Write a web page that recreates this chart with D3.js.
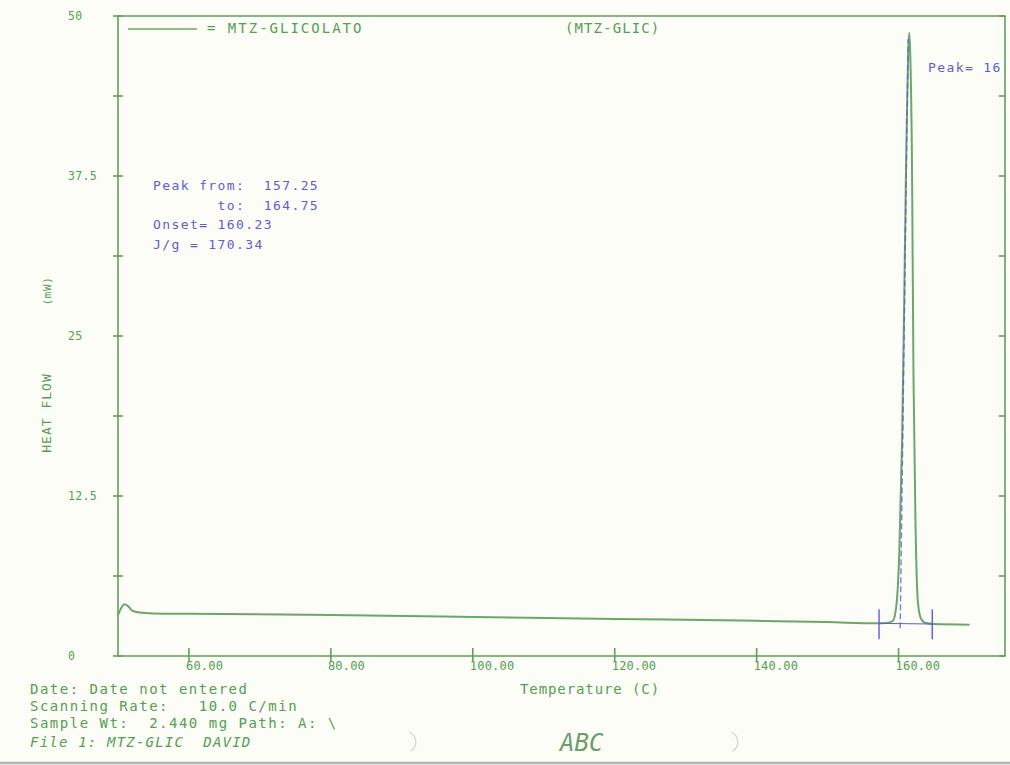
<!DOCTYPE html>
<html>
<head>
<meta charset="utf-8">
<script src="https://cdn.jsdelivr.net/npm/d3@7"></script>
<style>
  html, body { margin: 0; padding: 0; background: #fdfdf7; }
  svg { display: block; }
  text { font-family: "DejaVu Sans Mono", "Liberation Mono", monospace; }
</style>
</head>
<body>
<svg id="chart"></svg>
<script>
// DSC scan, MTZ-GLICOLATO
const temps = [50, 50.4, 50.9, 51.4, 52, 53, 55, 60, 80, 100, 120, 140, 150, 157, 158.5, 159.2,
  159.7, 160.1, 160.5, 160.8, 161.1, 161.35, 161.5, 161.65, 161.9, 162.1, 162.4, 162.7, 163.1,
  163.7, 165, 170];
const heatFlow = [3.2, 3.7, 4.05, 3.9, 3.55, 3.4, 3.33, 3.3, 3.2, 3.05, 2.9, 2.75, 2.65, 2.55, 2.6, 2.75,
  4.0, 8, 17, 28, 40, 47, 48.7, 47, 38, 22, 10, 4.4, 3.0,
  2.6, 2.5, 2.45];

const yTicks = [0, 12.5, 25, 37.5, 50];
const yMinorTicks = [6.25, 18.75, 31.25, 43.75];
const xTicks = [60, 80, 100, 120, 140, 160];

const peakFrom = 157.25, peakTo = 164.75, onset = 160.23;
const baseFrom = 2.55, baseTo = 2.5;
const tangentTop = [161.35, 48.2];

const annotation = ["Peak from:  157.25", "       to:  164.75", "Onset= 160.23", "J/g = 170.34"];
const footer = ["Date: Date not entered", "Scanning Rate:   10.0 C/min", "Sample Wt:  2.440 mg Path: A: \\"];

const width = 1010, height = 765;
const green = "#5f9f5f", lineGreen = "#6aa86a", textGreen = "#52a052", blue = "#5c5cdc";

const svg = d3.select("#chart").attr("width", width).attr("height", height);
svg.append("rect").attr("width", width).attr("height", height).attr("fill", "#fdfdf7");

const x = d3.scaleLinear().domain([50, 175]).range([118, 1005]);
const y = d3.scaleLinear().domain([0, 50]).range([656, 16]);

// frame
const frame = svg.append("g").attr("stroke", green).attr("stroke-width", 1.6).attr("fill", "none");
frame.append("path").attr("d", `M${x(50)},${y(50)}H${x(175)}V${y(0)}H${x(50)}Z`);

// y ticks, left and right
const allY = yTicks.concat(yMinorTicks);
frame.selectAll(".yt").data(allY).join("line")
  .attr("x1", x(50) - 5).attr("x2", x(50) + 5)
  .attr("y1", d => y(d)).attr("y2", d => y(d));
frame.selectAll(".yr").data(allY).join("line")
  .attr("x1", x(175) - 6).attr("x2", x(175))
  .attr("y1", d => y(d)).attr("y2", d => y(d));

// x ticks
frame.selectAll(".xt").data(xTicks).join("line")
  .attr("x1", d => x(d)).attr("x2", d => x(d))
  .attr("y1", y(0) - 8).attr("y2", y(0) + 6);

svg.append("g").selectAll("text").data(yTicks).join("text")
  .attr("x", 68).attr("y", d => y(d) + 4)
  .attr("fill", textGreen).attr("font-size", 11.5).attr("letter-spacing", 0.3)
  .text(d => d);

svg.append("g").selectAll("text").data(xTicks).join("text")
  .attr("x", d => x(d) - 3).attr("y", y(0) + 14)
  .attr("fill", textGreen).attr("font-size", 12).attr("letter-spacing", 0.2)
  .text(d => d3.format(".2f")(d));

// axis titles
svg.append("text").attr("x", 590).attr("y", 694).attr("text-anchor", "middle")
  .attr("fill", textGreen).attr("font-size", 14).attr("letter-spacing", 0.9)
  .text("Temperature (C)");
svg.append("text").attr("transform", "translate(51,413) rotate(-90)").attr("text-anchor", "middle")
  .attr("fill", textGreen).attr("font-size", 13).attr("letter-spacing", 1)
  .text("HEAT FLOW");
svg.append("text").attr("transform", "translate(51,291) rotate(-90)").attr("text-anchor", "middle")
  .attr("fill", textGreen).attr("font-size", 11).attr("letter-spacing", 0.6)
  .text("(mW)");

// legend
svg.append("line").attr("x1", 128).attr("x2", 197).attr("y1", 29).attr("y2", 29)
  .attr("stroke", lineGreen).attr("stroke-width", 1.6);
svg.append("text").attr("x", 207).attr("y", 33).attr("fill", textGreen)
  .attr("font-size", 14).attr("letter-spacing", 2).text("= MTZ-GLICOLATO");
svg.append("text").attr("x", 565).attr("y", 33).attr("fill", textGreen)
  .attr("font-size", 14).attr("letter-spacing", 1.1).text("(MTZ-GLIC)");

// heat flow curve
const line = d3.line().x(d => x(d[0])).y(d => y(d[1])).curve(d3.curveMonotoneX);
svg.append("path").datum(d3.zip(temps, heatFlow))
  .attr("d", line).attr("fill", "none")
  .attr("stroke", lineGreen).attr("stroke-width", 2);

// peak integration marks
const marks = svg.append("g").attr("stroke", blue).attr("stroke-width", 1.4);
marks.append("line").attr("x1", x(peakFrom)).attr("x2", x(peakTo))
  .attr("y1", y(baseFrom)).attr("y2", y(baseTo)).attr("stroke-width", 1);
[peakFrom, peakTo].forEach(t => {
  marks.append("line").attr("x1", x(t)).attr("x2", x(t))
    .attr("y1", y(baseFrom) - 14).attr("y2", y(baseFrom) + 16);
});
marks.append("line").attr("x1", x(onset)).attr("x2", x(tangentTop[0]))
  .attr("y1", y(baseFrom) + 5).attr("y2", y(tangentTop[1]))
  .attr("stroke-dasharray", "6,3").attr("stroke-opacity", 0.8);

// annotations
svg.append("g").selectAll("text").data(annotation).join("text")
  .attr("x", 153).attr("y", (d, i) => 190 + i * 19.5)
  .attr("fill", blue).attr("font-size", 13).attr("letter-spacing", 1.4)
  .style("white-space", "pre")
  .text(d => d);
svg.append("text").attr("x", 928).attr("y", 72).attr("fill", blue)
  .attr("font-size", 13).attr("letter-spacing", 1.4).text("Peak= 16");

// footer
svg.append("g").selectAll("text").data(footer).join("text")
  .attr("x", 30).attr("y", (d, i) => 694 + i * 17)
  .attr("fill", textGreen).attr("font-size", 14).attr("letter-spacing", 1.5)
  .style("white-space", "pre")
  .text(d => d);
svg.append("text").attr("x", 30).attr("y", 747).attr("fill", textGreen)
  .attr("font-size", 14).attr("font-style", "italic").attr("letter-spacing", 1.2)
  .style("white-space", "pre").text("File 1: MTZ-GLIC  DAVID");
svg.append("text").attr("x", 560).attr("y", 751).attr("fill", "#6a9f6a")
  .attr("font-family", "DejaVu Sans").attr("font-size", 24).attr("font-style", "italic")
  .attr("font-weight", 300).text("ABC");

// scan artifacts and page edge
const arc = d3.arc()({ innerRadius: 10, outerRadius: 11.5, startAngle: 0.4, endAngle: 2.6 });
[[405, 742], [727, 742]].forEach(p => {
  svg.append("path").attr("d", arc).attr("transform", `translate(${p[0]},${p[1]})`)
    .attr("fill", "#d8d8d8");
});
svg.append("line").attr("x1", 0).attr("x2", width).attr("y1", 763).attr("y2", 763)
  .attr("stroke", "#b4b4b4").attr("stroke-width", 2.5);
</script>
</body>
</html>
